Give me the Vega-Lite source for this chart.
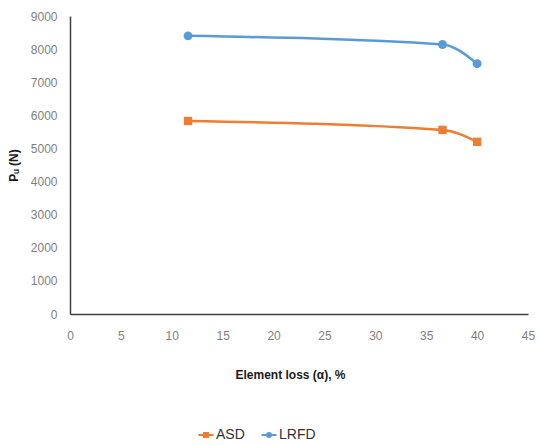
{
  "$schema": "https://vega.github.io/schema/vega-lite/v6.json",
  "width": 458,
  "height": 298,
  "autosize": {"type": "none"},
  "padding": {"left": 70, "top": 16, "right": 12, "bottom": 131},
  "background": "white",
  "config": {"view": {"stroke": null}, "font": "Liberation Sans"},
  "data": {
    "values": [
      {"loss": 11.6, "pu": 5830, "method": "ASD"},
      {"loss": 36.6, "pu": 5560, "method": "ASD"},
      {"loss": 40, "pu": 5200, "method": "ASD"},
      {"loss": 11.6, "pu": 8400, "method": "LRFD"},
      {"loss": 36.6, "pu": 8140, "method": "LRFD"},
      {"loss": 40, "pu": 7560, "method": "LRFD"}
    ]
  },
  "encoding": {
    "x": {
      "field": "loss", "type": "quantitative",
      "scale": {"domain": [0, 45], "nice": false},
      "axis": {
        "values": [0, 5, 10, 15, 20, 25, 30, 35, 40, 45],
        "grid": false, "ticks": false, "domainColor": "#404040", "domainWidth": 1.5,
        "labelColor": "#7f7f7f", "labelFontSize": 12, "labelPadding": 16, "labelFlush": false,
        "title": "Element loss (α), %", "titleFontSize": 12, "titleFontWeight": "bold",
        "titleColor": "#1a1a1a", "titlePadding": 28, "titleX": 220, "titleAlign": "center"
      }
    },
    "y": {
      "field": "pu", "type": "quantitative",
      "scale": {"domain": [0, 9000], "nice": false},
      "axis": {
        "values": [0, 1000, 2000, 3000, 4000, 5000, 6000, 7000, 8000, 9000],
        "format": "d", "labelFlush": false,
        "grid": false, "ticks": false, "domainColor": "#404040", "domainWidth": 1.5,
        "labelColor": "#7f7f7f", "labelFontSize": 12, "labelPadding": 13,
        "title": "Pᵤ (N)", "titleFontSize": 12, "titleFontWeight": "bold",
        "titleColor": "#1a1a1a", "titlePadding": 10
      }
    },
    "color": {
      "field": "method", "type": "nominal",
      "scale": {"domain": ["ASD", "LRFD"], "range": ["#ED7D31", "#5B9BD5"]},
      "legend": {
        "orient": "none", "legendX": 129, "legendY": 412, "direction": "horizontal", "title": null,
        "labelFontSize": 14, "labelColor": "#333333", "labelOffset": 3,
        "symbolSize": 100, "columnPadding": 12, "symbolStrokeWidth": 2,
        "encode": {
          "symbols": {
            "update": {
              "shape": {"signal": "datum.value === 'ASD' ? 'M-1.5,0H1.5M-0.4,-0.4H0.4V0.4H-0.4Z' : 'M-1.5,0H-0.4A0.4,0.4 0 1,0 0.4,0A0.4,0.4 0 1,0 -0.4,0M0.4,0H1.5'"},
              "fill": {"signal": "scale('color', datum.value)"},
              "stroke": {"signal": "scale('color', datum.value)"},
              "strokeWidth": {"value": 2},
              "opacity": {"value": 1}
            }
          }
        }
      }
    }
  },
  "layer": [
    {
      "mark": {"type": "line", "interpolate": "monotone", "strokeWidth": 2.5}
    },
    {
      "transform": [{"filter": "datum.method === 'ASD'"}],
      "mark": {"type": "point", "shape": "square", "filled": true, "opacity": 1, "size": 70}
    },
    {
      "transform": [{"filter": "datum.method === 'LRFD'"}],
      "mark": {"type": "point", "shape": "circle", "filled": true, "opacity": 1, "size": 80}
    }
  ]
}
